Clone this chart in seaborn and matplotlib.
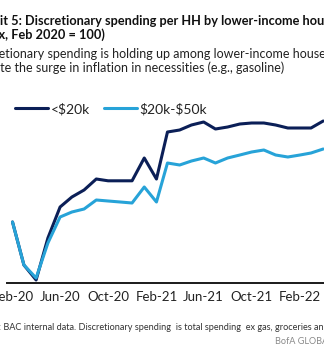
import matplotlib
matplotlib.use("Agg")
import matplotlib.pyplot as plt
import pandas as pd
import seaborn as sns

# Monthly index values, Feb 2020 = 100
months = pd.date_range("2020-02-01", "2022-04-01", freq="MS")
under_20k = [100, 78.5, 71, 92, 107.5, 112.5, 116, 121.5, 120.6, 120.6, 120.6, 132,
             121.5, 145, 146, 148.5, 150, 146.5, 147.5, 149, 149.5, 149.5, 148.5,
             147, 147, 147, 150.5]
from_20k_to_50k = [100, 78.5, 72, 89.5, 102.5, 105, 106.5, 111, 110.5, 110, 109.5, 117.5,
                   110, 129.5, 128.5, 130.5, 132, 129.5, 132, 133.5, 135, 136, 133.5,
                   132.5, 133.5, 134.5, 136.5]
series_names = ["<$20k", "$20k-$50k"]
series_colors = ["#0b1f57", "#27a3d8"]
tick_labels = ["Feb-20", "Jun-20", "Oct-20", "Feb-21", "Jun-21", "Oct-21", "Feb-22"]

title_line1 = "Exhibit 5: Discretionary spending per HH by lower-income households"
title_line2 = "(Index, Feb 2020 = 100)"
subtitle_line1 = "Discretionary spending is holding up among lower-income households"
subtitle_line2 = "despite the surge in inflation in necessities (e.g., gasoline)"
source_note = ("Source: BAC internal data. Discretionary spending  is total spending  "
               "ex gas, groceries and utilities")
brand = "BofA GLOBAL RESEARCH"

df = pd.DataFrame({
    "Month": list(months) * 2,
    "Index": under_20k + from_20k_to_50k,
    "Series": [series_names[0]] * len(months) + [series_names[1]] * len(months),
})

sns.set_theme(style="white")
FONT = ["Liberation Sans Narrow", "Lato", "DejaVu Sans"]
plt.rcParams["font.family"] = FONT

W, H = 324, 358
fig = plt.figure(figsize=(W / 100, H / 100), dpi=100)
ax = fig.add_axes([7 / W, (H - 283) / H, (W - 7) / W, (283 - 112) / H])

sns.lineplot(data=df, x="Month", y="Index", hue="Series", hue_order=series_names,
             palette=series_colors, linewidth=2.2, ax=ax, legend=True)

ax.set_xlim(pd.Timestamp("2020-01-18"), pd.Timestamp("2022-04-03"))
ax.set_ylim(69.5, 155)
tick_dates = [pd.to_datetime(t, format="%b-%y") for t in tick_labels]
ax.set_xticks(tick_dates)
ax.set_xticklabels(tick_labels)
ax.set_yticks([])
ax.set_xlabel("")
ax.set_ylabel("")
ax.tick_params(axis="x", length=0, pad=6, labelsize=9.5, labelcolor="#222222")
for side in ["top", "left", "right"]:
    ax.spines[side].set_visible(False)
ax.spines["bottom"].set_color("#1a1a1a")
ax.spines["bottom"].set_linewidth(1.4)

sns.move_legend(ax, loc="center left", bbox_to_anchor=(15 / W, 1 - 109 / H),
                bbox_transform=fig.transFigure, ncol=2, frameon=False, title=None,
                handlelength=2.4, handletextpad=0.15, columnspacing=1.0,
                borderpad=0, borderaxespad=0, fontsize=10)
for txt in ax.get_legend().get_texts():
    txt.set_parse_math(False)
    txt.set_color("#222222")

fig.canvas.draw()
renderer = fig.canvas.get_renderer()


def text_width(s, **kw):
    probe = fig.text(0, 0, s, **kw)
    w = probe.get_window_extent(renderer).width
    probe.remove()
    return w


def place_line(full, hidden_chars, x_px, y_px, **kw):
    """Draw `full` so that its first visible character starts at x_px."""
    hidden = full[:hidden_chars]
    nxt = full[hidden_chars]
    offset = text_width(hidden + nxt, **kw) - text_width(nxt, **kw)
    fig.text((x_px - offset) / W, 1 - y_px / H, full, va="baseline", ha="left", **kw)


place_line(title_line1, 5, 0, 25, fontsize=9.2, fontweight="bold", color="#111111")
place_line(title_line2, 5, -2, 39, fontsize=9.2, fontweight="bold", color="#111111")
place_line(subtitle_line1, 5, -1, 58, fontsize=9.0, color="#222222")
place_line(subtitle_line2, 5, 0, 72.5, fontsize=9.0, color="#222222")
place_line(source_note, 8, 3, 330, fontsize=6.6, color="#333333")
fig.text(275 / W, 1 - 344 / H, brand, fontsize=6.6, color="#8a8a8a", va="baseline")

fig.savefig("out.png", dpi=100)
